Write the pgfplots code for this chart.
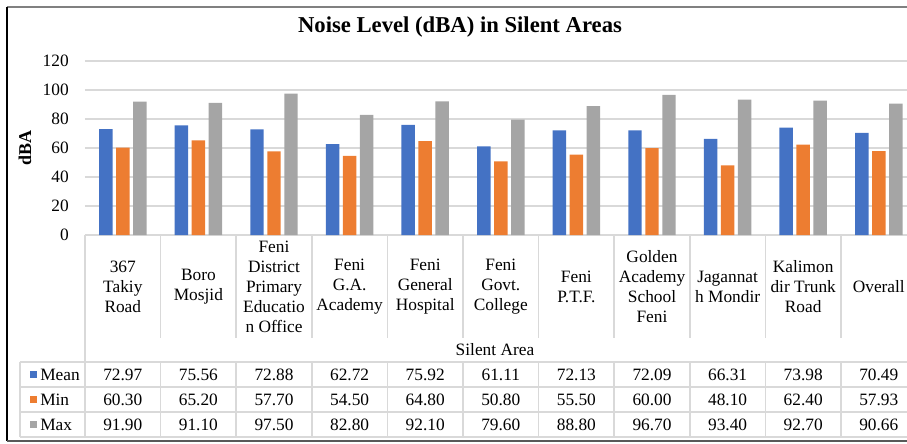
\documentclass[border=0pt]{standalone}
\usepackage{pgfplots}
\pgfplotsset{compat=1.18}
\usepackage{pgfplotstable}
\usepackage{fontspec}
\setmainfont{Liberation Serif}

\definecolor{cMean}{HTML}{4472C4}
\definecolor{cMin}{HTML}{ED7D31}
\definecolor{cMax}{HTML}{A5A5A5}
\definecolor{gridc}{HTML}{D9D9D9}

% noise levels per silent area
\pgfplotstableread{
x Mean Min Max
0 72.97 60.30 91.90
1 75.56 65.20 91.10
2 72.88 57.70 97.50
3 62.72 54.50 82.80
4 75.92 64.80 92.10
5 61.11 50.80 79.60
6 72.13 55.50 88.80
7 72.09 60.00 96.70
8 66.31 48.10 93.40
9 73.98 62.40 92.70
10 70.49 57.93 90.66
}\datatable

\newcommand{\tabfont}{\fontsize{13}{15}\selectfont}
\def\cw{75.6}

\begin{document}
\begin{tikzpicture}[x=0.75pt,y=0.75pt]
\begin{axis}[
  at={(0,0)}, anchor=south west,
  scale only axis, width=623.7pt, height=130.5pt,
  ybar=2.65pt, bar width=10.1pt,
  xmin=-0.5, xmax=10.5, ymin=0, ymax=120,
  ytick={0,20,...,120},
  xtick={0,...,10},
  xticklabels={{367\\Takiy\\Road},{Boro\\Mosjid},{Feni\\District\\Primary\\Educatio\\n Office},
    {Feni\\G.A.\\Academy},{Feni\\General\\Hospital},{Feni\\Govt.\\College},{Feni\\P.T.F.},
    {Golden\\Academy\\School\\Feni},{Jagannat\\h Mondir},{Kalimon\\dir Trunk\\Road},{Overall}},
  xticklabel style={align=center, anchor=center, yshift=-39pt, font=\tabfont},
  yticklabel style={anchor=east, inner sep=0pt, xshift=-12pt, font=\tabfont},
  major tick length=0pt,
  axis line style={draw=none},
  ymajorgrids, grid style={draw=gridc, line width=0.9pt},
  xlabel={Silent Area},
  xlabel style={at={(axis description cs:0.493,-0.661)}, anchor=center, font=\tabfont},
  /pgf/number format/assume math mode=true,
]
\addplot[fill=cMean, draw=none] table[x=x, y=Mean]{\datatable};
\addplot[fill=cMin, draw=none] table[x=x, y=Min]{\datatable};
\addplot[fill=cMax, draw=none] table[x=x, y=Max]{\datatable};
\end{axis}

% y axis title
\node[rotate=90, anchor=center, font=\fontsize{13.5}{16}\selectfont\bfseries] at (-60,87) {dBA};

% data table under the axis
\begin{scope}[gridc, line width=1.1pt]
  \foreach \i in {1,...,10} \draw ({\i*\cw},0) -- ({\i*\cw},-103);
  \foreach \i in {0,...,11} \draw ({\i*\cw},-127) -- ({\i*\cw},-202);
  \draw (0,0) -- (0,-127);
  \draw (-65,-127) -- (-65,-202);
  \foreach \y in {-127,-152,-177,-202} \draw (-65,\y) -- (840,\y);
\end{scope}
\foreach \c/\r/\col in {Mean/0/cMean,Min/1/cMin,Max/2/cMax}{
  \fill[\col] (-55,{-142.5-25*\r}) rectangle (-48,{-135.5-25*\r});
  \node[anchor=base west, inner sep=0pt, font=\tabfont] at (-45,{-145-25*\r}) {\c};
  \foreach \i in {0,...,10}{
    \pgfplotstablegetelem{\i}{\c}\of\datatable
    \node[anchor=base, inner sep=0pt, font=\tabfont] at ({(\i+0.5)*\cw},{-145-25*\r})
      {\pgfmathprintnumber[fixed,fixed zerofill,precision=2,assume math mode=true]{\pgfplotsretval}};
  }
}

\node[anchor=base, font=\fontsize{17}{20}\selectfont\bfseries] at (375,202)
  {Noise Level (dBA) in Silent Areas};

% outer frame
\draw[gray, line width=1.1pt] (-78,228) -- (840,228);
\draw[black, line width=0.8pt] (-78,228) -- (-78,-206);
\draw[black!65, line width=2.2pt] (-78,-206) -- (840,-206);

\pgfresetboundingbox
\useasboundingbox (-85,-208) rectangle (822,235);
\end{tikzpicture}
\end{document}
